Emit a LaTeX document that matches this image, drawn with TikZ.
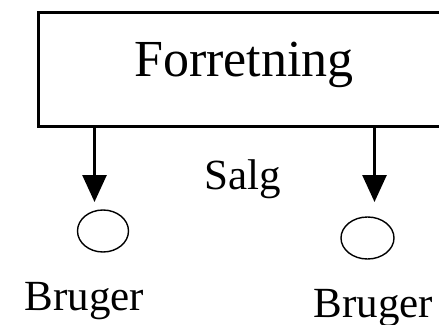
\documentclass[tikz,border=0pt]{standalone}
\usepackage{fontspec}
\setmainfont{Liberation Serif}
\usetikzlibrary{arrows.meta,shapes.geometric}
\begin{document}
\begin{tikzpicture}[x=1pt,y=-1pt,
  box/.style={draw,line width=3pt},
  conn/.style={line width=2.7pt,-{Triangle[width=24pt,length=27pt]}},
  circ/.style={draw,line width=1.4pt,ellipse,inner sep=0pt,minimum width=51pt,minimum height=42pt},
  lbl/.style={inner sep=0pt,font=\fontsize{43}{50}\selectfont}]
\useasboundingbox (0,0) rectangle (439,324);
\clip (0,0) rectangle (439,324);
\node[box,anchor=north west,minimum width=420pt,minimum height=114pt,inner sep=0pt] (f) at (36.5,10.5) {};
\node[inner sep=0pt,font=\fontsize{52}{60}\selectfont,anchor=base] (ft) at (244,76) {Forretning};
\coordinate (a1) at (94.5,202);
\coordinate (a2) at (374.5,202);
\draw[conn] (f.south -| a1) -- (a1);
\draw[conn] (f.south -| a2) -- (a2);
\node[circ] (c1) at (103,231) {};
\node[circ,minimum width=53pt] (c2) at (367.5,238) {};
\node[lbl,anchor=base] (s) at (243,189) {Salg};
\node[lbl,anchor=base] (b1) at (84.5,310) {Bruger};
\node[lbl,anchor=base] (b2) at (373.5,317) {Bruger};
\end{tikzpicture}
\end{document}
